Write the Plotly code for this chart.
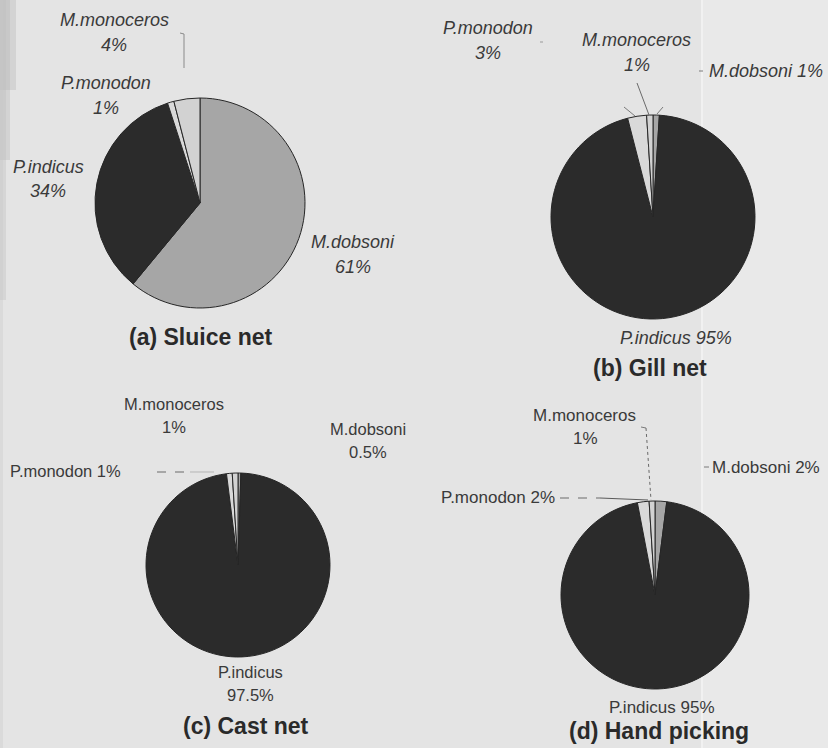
import plotly.graph_objects as go

# Species (same slice order for every gear, clockwise from 12 o'clock)
species = ["M.dobsoni", "P.indicus", "P.monodon", "M.monoceros"]

# Percentage composition of the catch per gear
sluice_net = [61, 34, 1, 4]
gill_net = [1, 95, 3, 1]
cast_net = [0.5, 97.5, 1, 1]
hand_picking = [2, 95, 2, 1]

panel_titles = ["(a) Sluice net", "(b) Gill net", "(c) Cast net", "(d) Hand picking"]

slice_colors = ["#a6a6a6", "#2b2b2b", "#d9d9d9", "#d2d2d2"]

W, H = 828, 748
BG = "#e4e4e4"


def dom(cx, cy, r):
    return dict(x=[(cx - r) / W, (cx + r) / W], y=[1 - (cy + r) / H, 1 - (cy - r) / H])


def px(x, y):
    return x / W, 1 - y / H


def pct(v):
    return f"{v:g}%"


panels = [
    dict(values=sluice_net, center=(200, 203), r=105, italic=True, size=18,
         # each entry: species index -> list of (text kind, x, y)
         labels={3: [("name", 114, 20), ("val", 114, 45)],
                 2: [("name", 106, 83), ("val", 106, 108)],
                 1: [("name", 48, 167), ("val", 48, 191)],
                 0: [("name", 353, 242), ("val", 353, 267)]},
         title=(200, 337), tsize=23),
    dict(values=gill_net, center=(653, 217), r=102, italic=True, size=18,
         labels={2: [("name", 488, 28), ("val", 488, 53)],
                 3: [("name", 636, 40), ("val", 637, 65)],
                 0: [("both", 766, 71)],
                 1: [("both", 676, 338)]},
         title=(650, 368), tsize=23),
    dict(values=cast_net, center=(238, 565), r=92, italic=False, size=16.5,
         labels={3: [("name", 174, 404), ("val", 174, 427)],
                 0: [("name", 368, 429), ("val", 368, 452)],
                 2: [("both", 65, 471)],
                 1: [("name", 250, 672), ("val", 250, 695)]},
         title=(246, 726), tsize=23),
    dict(values=hand_picking, center=(655, 595), r=94, italic=False, size=17,
         labels={3: [("name", 584, 415), ("val", 585, 438)],
                 0: [("both", 766, 467)],
                 2: [("both", 498, 497)],
                 1: [("both", 662, 707)]},
         title=(659, 731), tsize=23),
]

fig = go.Figure()
annotations = []

for p in panels:
    cx, cy = p["center"]
    fig.add_trace(go.Pie(
        labels=species,
        values=p["values"],
        sort=False,
        direction="clockwise",
        rotation=0,
        textinfo="none",
        hoverinfo="label+percent",
        showlegend=False,
        marker=dict(colors=slice_colors, line=dict(color="#262626", width=1)),
        domain=dom(cx, cy, p["r"]),
    ))
    family = "Liberation Sans"
    for idx, parts in p["labels"].items():
        name, val = species[idx], p["values"][idx]
        for kind, x, y in parts:
            if kind == "name":
                txt = name
            elif kind == "val":
                txt = pct(val)
            else:
                txt = f"{name} {pct(val)}"
            if p["italic"]:
                txt = f"<i>{txt}</i>"
            ax, ay = px(x, y)
            annotations.append(dict(
                x=ax, y=ay, xref="paper", yref="paper", text=txt, showarrow=False,
                xanchor="center", yanchor="middle",
                font=dict(family=family, size=p["size"], color="#3a3a3a"),
            ))

for t, p in zip(panel_titles, panels):
    tx, ty = px(*p["title"])
    annotations.append(dict(
        x=tx, y=ty, xref="paper", yref="paper", text=f"<b>{t}</b>", showarrow=False,
        xanchor="center", yanchor="middle",
        font=dict(family="Liberation Sans", size=p["tsize"], color="#2a2a2a"),
    ))


def seg(x0, y0, x1, y1, color="#6e6e6e", width=1, dash="solid"):
    a0, b0 = px(x0, y0)
    a1, b1 = px(x1, y1)
    return dict(type="line", xref="paper", yref="paper", x0=a0, y0=b0, x1=a1, y1=b1,
                line=dict(color=color, width=width, dash=dash), layer="above")


def band(x0, x1, y0, y1, color, opacity):
    a0, b1 = px(x0, y0)
    a1, b0 = px(x1, y1)
    return dict(type="rect", xref="paper", yref="paper", x0=a0, x1=a1, y0=b0, y1=b1,
                fillcolor=color, line=dict(width=0), layer="below", opacity=opacity)


shapes = [
    # page shading: darker left edge fading downwards, lighter strip on the right
    band(701, W, 0, H, "#e9e9e9", 1.0),
    band(701, 703, 0, H, "#f1f1f1", 1.0),
    band(0, 16, 0, 90, "#b4b4b4", 0.35),
    band(0, 10, 0, 160, "#b4b4b4", 0.35),
    band(0, 6, 0, 300, "#bdbdbd", 0.35),
    band(0, 3, 0, H, "#c8c8c8", 0.35),
    # leader lines (a)
    seg(180, 33, 184, 34, "#8a8a8a"),
    seg(184, 34, 184, 68, "#8a8a8a"),
    # leader lines (b)
    seg(624, 107, 635, 116, "#7a7a7a"),
    seg(637, 83, 649, 115, "#6a6a6a"),
    seg(663, 107, 657, 114, "#7a7a7a"),
    seg(699, 71, 703, 71, "#7a7a7a"),
    seg(540, 42, 543, 42, "#9a9a9a"),
    # leader lines (c)
    seg(157, 472, 190, 472, "#6a6a6a", dash="dash"),
    seg(190, 472, 214, 472, "#b5b5b5"),
    # leader lines (d)
    seg(560, 498, 600, 498, "#6a6a6a", dash="dash"),
    seg(600, 498, 648, 500, "#5a5a5a"),
    seg(641, 427, 646, 428, "#7a7a7a"),
    seg(646, 428, 651, 500, "#6a6a6a", dash="dot"),
    seg(704, 467, 709, 467, "#7a7a7a"),
]

fig.update_layout(
    width=W, height=H,
    margin=dict(l=0, r=0, t=0, b=0),
    paper_bgcolor=BG,
    plot_bgcolor=BG,
    annotations=annotations,
    shapes=shapes,
    showlegend=False,
)

fig.write_html("out.html")
